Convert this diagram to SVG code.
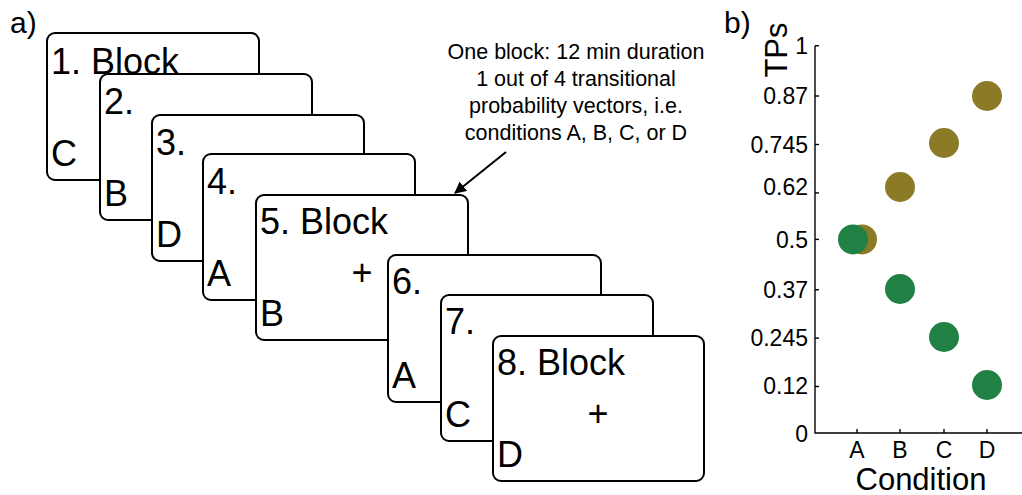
<svg xmlns="http://www.w3.org/2000/svg" width="1022" height="495" viewBox="0 0 1022 495">
  <defs>
    <style>
      text { font-family: "Liberation Sans", Arial, sans-serif; fill: #000; }
      .card rect { fill: #fff; stroke: #000; stroke-width: 2; }
      .num { font-size: 36px; }
      .cond { font-size: 36px; }
      .plus { font-size: 36px; text-anchor: middle; }
      .note { font-size: 21.5px; text-anchor: middle; }
      .panel { font-size: 30px; }
      .tick { font-size: 23px; }
      .ylab { text-anchor: end; }
      .xlab { text-anchor: middle; }
      .axis { stroke: #000; stroke-width: 1.4; fill: none; }
      .olive { fill: #8b7b26; }
      .green { fill: #218043; }
    </style>
    <marker id="arrowhead" viewBox="0 0 10 10" refX="9" refY="5" markerWidth="12" markerHeight="12" markerUnits="userSpaceOnUse" orient="auto">
      <path d="M0,0 L10,5 L0,10 z" fill="#000"/>
    </marker>
  </defs>

  <!-- panel letters -->
  <text class="panel" x="10" y="33">a)</text>
  <text class="panel" x="724" y="33">b)</text>

  <!-- stacked block cards, drawn back to front -->
  <g id="block1" class="card">
    <rect x="47" y="33" width="212" height="147" rx="8"/>
    <text class="num" x="51" y="74">1. Block</text>
    <text class="cond" x="51" y="166">C</text>
  </g>
  <g id="block2" class="card">
    <rect x="100" y="74" width="212" height="146" rx="8"/>
    <text class="num" x="104" y="114">2.</text>
    <text class="cond" x="104" y="206">B</text>
  </g>
  <g id="block3" class="card">
    <rect x="152" y="115" width="212" height="146" rx="8"/>
    <text class="num" x="156" y="155">3.</text>
    <text class="cond" x="156" y="247">D</text>
  </g>
  <g id="block4" class="card">
    <rect x="203" y="154" width="212" height="146" rx="8"/>
    <text class="num" x="207" y="194">4.</text>
    <text class="cond" x="207" y="286">A</text>
  </g>
  <g id="block5" class="card">
    <rect x="256" y="195" width="212" height="145" rx="8"/>
    <text class="num" x="260" y="234">5. Block</text>
    <text class="plus" x="362" y="285">+</text>
    <text class="cond" x="260" y="326">B</text>
  </g>
  <g id="block6" class="card">
    <rect x="388" y="255" width="213" height="147" rx="8"/>
    <text class="num" x="392" y="294">6.</text>
    <text class="cond" x="392" y="388">A</text>
  </g>
  <g id="block7" class="card">
    <rect x="441" y="295" width="212" height="146" rx="8"/>
    <text class="num" x="445" y="334">7.</text>
    <text class="cond" x="445" y="427">C</text>
  </g>
  <g id="block8" class="card">
    <rect x="493" y="336" width="211" height="145" rx="8"/>
    <text class="num" x="497" y="375">8. Block</text>
    <text class="plus" x="598" y="426">+</text>
    <text class="cond" x="497" y="467">D</text>
  </g>

  <!-- block description -->
  <g id="note">
    <text class="note" x="576" y="59">One block: 12 min duration</text>
    <text class="note" x="576" y="86">1 out of 4 transitional</text>
    <text class="note" x="576" y="113">probability vectors, i.e.</text>
    <text class="note" x="576" y="140">conditions A, B, C, or D</text>
  </g>

  <g id="connectors">
    <line x1="506" y1="152" x2="455" y2="193" stroke="#000" stroke-width="2" marker-end="url(#arrowhead)"/>
  </g>

  <!-- TP scatter plot -->
  <g id="plot">
    <path class="axis" d="M815,45.7 V433 H1022"/>
    <g class="axis">
      <line x1="815" y1="45.7" x2="819" y2="45.7"/>
      <line x1="815" y1="96" x2="819" y2="96"/>
      <line x1="815" y1="144.5" x2="819" y2="144.5"/>
      <line x1="815" y1="192.9" x2="819" y2="192.9"/>
      <line x1="815" y1="239.4" x2="819" y2="239.4"/>
      <line x1="815" y1="289.7" x2="819" y2="289.7"/>
      <line x1="815" y1="338.1" x2="819" y2="338.1"/>
      <line x1="815" y1="386.5" x2="819" y2="386.5"/>
      <line x1="857" y1="433" x2="857" y2="429"/>
      <line x1="900" y1="433" x2="900" y2="429"/>
      <line x1="944" y1="433" x2="944" y2="429"/>
      <line x1="987" y1="433" x2="987" y2="429"/>
    </g>
    <g class="tick ylab">
      <text x="808" y="54">1</text>
      <text x="808" y="104">0.87</text>
      <text x="808" y="152.5">0.745</text>
      <text x="808" y="195">0.62</text>
      <text x="808" y="247.5">0.5</text>
      <text x="808" y="297.5">0.37</text>
      <text x="808" y="346">0.245</text>
      <text x="808" y="394">0.12</text>
      <text x="808" y="441.5">0</text>
    </g>
    <g class="tick xlab">
      <text x="857" y="458">A</text>
      <text x="900" y="458">B</text>
      <text x="944" y="458">C</text>
      <text x="987" y="458">D</text>
    </g>
    <text x="921" y="490" style="font-size:31px;text-anchor:middle">Condition</text>
    <text transform="translate(787,50) rotate(-90)" style="font-size:31px;text-anchor:middle">TPs</text>

    <g id="series-olive" class="olive">
      <circle cx="862" cy="239.4" r="15"/>
      <circle cx="900" cy="187" r="15"/>
      <circle cx="944" cy="143" r="15"/>
      <circle cx="987" cy="96" r="15"/>
    </g>
    <g id="series-green" class="green">
      <circle cx="853" cy="239.4" r="15"/>
      <circle cx="900" cy="289" r="15"/>
      <circle cx="944" cy="337" r="15"/>
      <circle cx="987" cy="385" r="15"/>
    </g>
  </g>
</svg>
